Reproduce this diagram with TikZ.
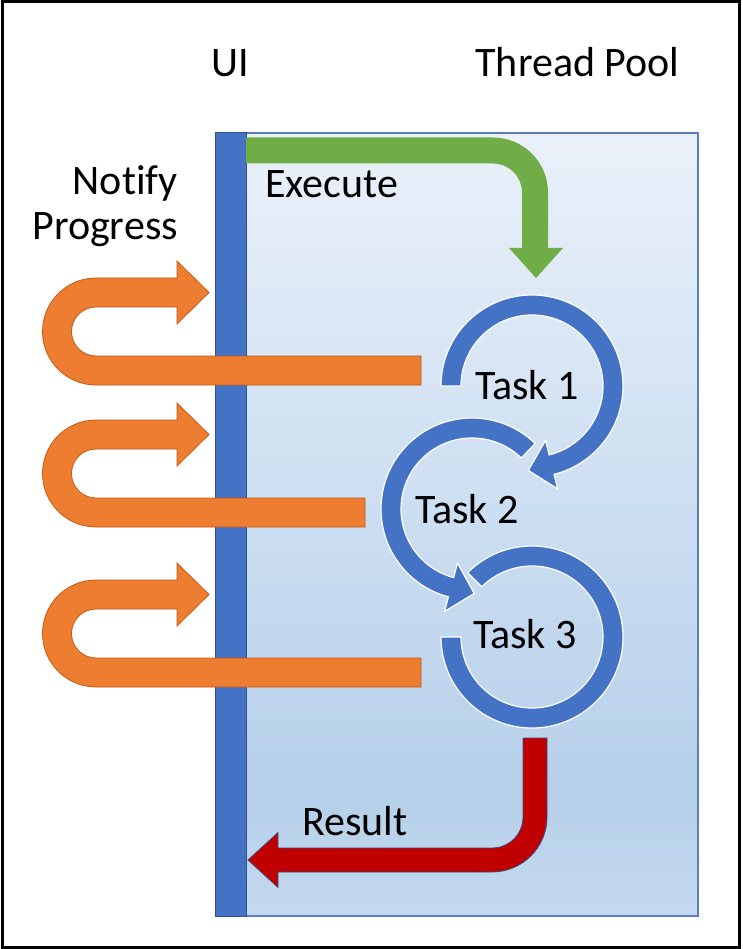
\documentclass[tikz,border=0pt]{standalone}
\usepackage{fontspec}
\setmainfont{Carlito}[Ligatures=CommonOff]
\usetikzlibrary{calc}
\definecolor{uiblue}{HTML}{4472C4}
\definecolor{uiedge}{HTML}{2F528F}
\definecolor{pooledge}{HTML}{5A7EC0}
\definecolor{tptop}{HTML}{EAF1FA}
\definecolor{tpmid}{HTML}{B6D0EA}
\definecolor{tpbot}{HTML}{C4D9EE}
\definecolor{orfill}{HTML}{ED7D31}
\definecolor{oredge}{HTML}{C55A11}
\definecolor{grfill}{HTML}{70AD47}
\definecolor{rdfill}{HTML}{C00000}
\definecolor{rdedge}{HTML}{3A4F86}
\pgfdeclareverticalshading{tpshade}{100bp}{color(0bp)=(tpbot); color(25bp)=(tpbot); color(33bp)=(tpmid); color(75bp)=(tptop); color(100bp)=(tptop)}
\newcommand\OrArrow[2]{% #1 = top centre line y (screen px), #2 = right end x
  \pgfmathsetmacro\ya{-(#1+78-14.5)}%
  \pgfmathsetmacro\yb{-(#1+14.5)}%
  \pgfmathsetmacro\yc{-(#1+31.5)}%
  \pgfmathsetmacro\yd{-(#1)}%
  \pgfmathsetmacro\ye{-(#1-31.5)}%
  \pgfmathsetmacro\yf{-(#1-14.5)}%
  \pgfmathsetmacro\yg{-(#1+78+14.5)}%
  \fill[orangearrow] (#2,\ya) -- (96,\ya) arc[start angle=270, end angle=90, radius=24.5pt]
    -- (177,\yb) -- (177,\yc) -- (209,\yd) -- (177,\ye) -- (177,\yf) -- (96,\yf)
    arc[start angle=90, end angle=270, radius=53.5pt] -- (#2,\yg) -- cycle;
}
\tikzset{
  lbl/.style={font=\fontsize{42}{50}\selectfont, inner sep=0pt, text=black},
  orangearrow/.style={fill=orfill, draw=oredge, line width=0.8pt},
  ringarrow/.style={fill=uiblue, draw=white, line width=1.2pt},
}
\begin{document}
\begin{tikzpicture}[x=1pt,y=1pt]
\useasboundingbox (0,0) rectangle (743,-949);
\fill[white] (0,0) rectangle (743,-949);
\draw[black, line width=3pt] (2.5,-1.5) rectangle (739.5,-947.5);

% thread pool area
\path[shading=tpshade, draw=pooledge, line width=1.2pt] (230,-133) rectangle (698,-916);
% UI bar
\fill[uiblue, draw=uiedge, line width=0.8pt] (215,-132) rectangle (246,-916);

% orange notify arrows
\OrArrow{292.5}{421}
\OrArrow{434.5}{365}
\OrArrow{594.5}{421}

% green execute arrow
\fill[grfill] (246,-137.5) -- (493,-137.5) arc[start angle=90, end angle=0, radius=55pt]
  -- (548,-248) -- (563,-248) -- (536,-278) -- (509,-248) -- (522,-248) -- (522,-192.5)
  arc[start angle=0, end angle=90, radius=29pt] -- (246,-163.5) -- cycle;

% task rings
\coordinate (c1) at (532,-386);
\coordinate (c2) at (472,-509);
\coordinate (c3) at (532,-637);
\fill[ringarrow] ($(c1)+(180:91)$) arc[start angle=180, end angle=-76, radius=91pt]
  -- ($(c1)+(-76:106)$) -- ($(c1)+(-92.5:84.5)$) -- ($(c1)+(-76:56)$) -- ($(c1)+(-76:71)$)
  arc[start angle=-76, end angle=180, radius=71pt] -- cycle;
\fill[ringarrow] ($(c2)+(46:91)$) arc[start angle=46, end angle=255, radius=91pt]
  -- ($(c2)+(255:106)$) -- ($(c2)+(271.5:84.5)$) -- ($(c2)+(255:56)$) -- ($(c2)+(255:71)$)
  arc[start angle=255, end angle=46, radius=71pt] -- cycle;
\fill[ringarrow] ($(c3)+(135:91)$) arc[start angle=135, end angle=-180, radius=91pt]
  -- ($(c3)+(180:71)$) arc[start angle=-180, end angle=135, radius=71pt] -- cycle;

% red result arrow
\fill[rdfill, draw=rdedge, line width=0.8pt] (523,-738) -- (547,-738) -- (547,-817)
  arc[start angle=0, end angle=-90, radius=55pt] -- (278,-872) -- (278,-887.5) -- (248,-860)
  -- (278,-832.5) -- (278,-848) -- (492,-848) arc[start angle=-90, end angle=0, radius=31pt] -- cycle;

% labels
\node[lbl, anchor=base] (ui) at (230,-77) {UI};
\node[lbl, anchor=base] (tp) at (577.5,-77) {Thread Pool};
\node[lbl, anchor=base east] (notify) at (178,-195) {Notify};
\node[lbl, anchor=base east] (progress) at (178,-240) {Progress};
\node[lbl, anchor=base west] (exec) at (265,-198) {Execute};
\node[lbl, anchor=base west] (res) at (302,-835) {Result};
\node[lbl, anchor=base west] (t1) at (475,-399) {Task 1};
\node[lbl, anchor=base west] (t2) at (415,-523) {Task 2};
\node[lbl, anchor=base west] (t3) at (473,-648) {Task 3};
\end{tikzpicture}
\end{document}
